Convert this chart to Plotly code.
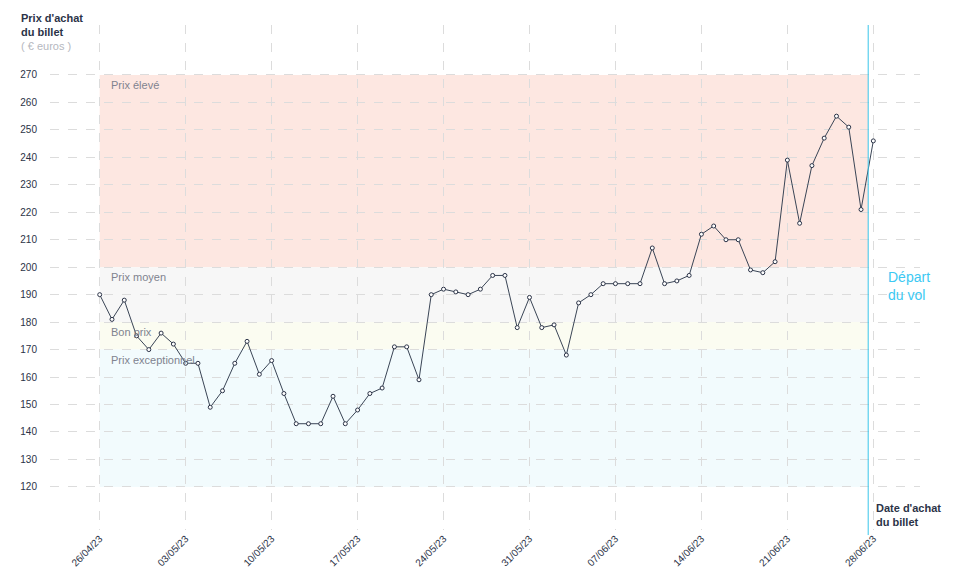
import plotly.graph_objects as go
import pandas as pd

start_date = "2023-04-26"
prices = [190, 181, 188, 175, 170, 176, 172, 165, 165, 149, 155, 165, 173, 161, 166, 154,
          143, 143, 143, 153, 143, 148, 154, 156, 171, 171, 159, 190,
          192, 191, 190, 192, 197, 197, 178, 189, 178, 179, 168, 187, 190, 194, 194, 194, 194,
          207, 194, 195, 197, 212, 215,
          210, 210, 199, 198, 202, 239, 216, 237, 247, 255, 251, 221, 246]
dates = pd.date_range(start_date, periods=len(prices), freq="D")
tick_dates = pd.date_range(start_date, periods=10, freq="7D")
tick_text = [d.strftime("%d/%m/%y") for d in tick_dates]
y_ticks = list(range(120, 280, 10))
bands = [(200, 270, "#fde7e1", "Prix élevé"), (180, 200, "#f7f7f7", "Prix moyen"),
         (170, 180, "#fbfcf1", "Bon prix"), (120, 170, "#f2fbfd", "Prix exceptionnel")]

depart = pd.Timestamp("2023-06-27 14:00")
x0 = pd.Timestamp(start_date)
px_day = 12.35
xr = [x0 - pd.Timedelta(days=50/px_day), x0 + pd.Timedelta(days=825/px_day)]

FONT = "Liberation Sans"
DARK = "#2b3347"
fig = go.Figure()
fig.add_trace(go.Scatter(x=dates, y=prices, mode="lines+markers",
                         line=dict(color="#3a4556", width=1),
                         marker=dict(symbol="circle", size=4, color="white",
                                     line=dict(color="#2b3347", width=1)),
                         hoverinfo="x+y", showlegend=False))
for lo, hi, col, name in bands:
    fig.add_shape(type="rect", xref="x", yref="y", x0=x0, x1=depart, y0=lo, y1=hi,
                  fillcolor=col, line_width=0, layer="below")
    fig.add_annotation(x=x0, y=hi, xref="x", yref="y", text=name, showarrow=False,
                       xanchor="left", yanchor="top", xshift=9, yshift=-2,
                       font=dict(family=FONT, size=11, color="#80838f"))
fig.add_shape(type="line", xref="x", yref="paper", x0=depart, x1=depart, y0=-0.01, y1=1,
              line=dict(color="#39c6ea", width=1))
fig.add_annotation(x=depart, y=200, xref="x", yref="y", text="Départ<br>du vol", showarrow=False,
                   xanchor="left", yanchor="top", xshift=18, align="left",
                   font=dict(family=FONT, size=14, color="#3cc9f3"))
fig.add_annotation(x=-0.0354, y=1.0297, xref="paper", yref="paper",
                   text="<b>Prix d'achat<br>du billet</b>", showarrow=False, align="left",
                   xanchor="left", yanchor="top", font=dict(family=FONT, size=11, color=DARK))
fig.add_annotation(x=-0.0354, y=0.958, xref="paper", yref="paper", text="( € euros )",
                   showarrow=False, align="left", xanchor="left", yanchor="middle",
                   font=dict(family=FONT, size=11, color="#b5b8c0"))
fig.add_annotation(x=depart, y=0.059, xref="x", yref="paper",
                   text="<b>Date d'achat<br>du billet</b>", showarrow=False, align="left",
                   xanchor="left", yanchor="top", xshift=6,
                   font=dict(family=FONT, size=11, color=DARK))
fig.update_layout(
    width=958, height=585, plot_bgcolor="white", paper_bgcolor="white",
    margin=dict(l=37, r=46, t=17, b=63),
    font=dict(family=FONT, size=10, color=DARK),
    xaxis=dict(range=xr, tickvals=tick_dates, ticktext=tick_text, tickangle=-45,
               showgrid=True, gridcolor="#dcdcdc", griddash="dash", zeroline=False,
               showline=False, ticks="", tickfont=dict(size=10, color=DARK)),
    yaxis=dict(range=[104.3, 288.2], tickvals=y_ticks, showgrid=True, gridcolor="#dcdcdc",
               griddash="dash", zeroline=False, showline=False, ticks="",
               ticklabelstandoff=12, tickfont=dict(size=10, color=DARK)),
)
fig.write_html("out.html")
